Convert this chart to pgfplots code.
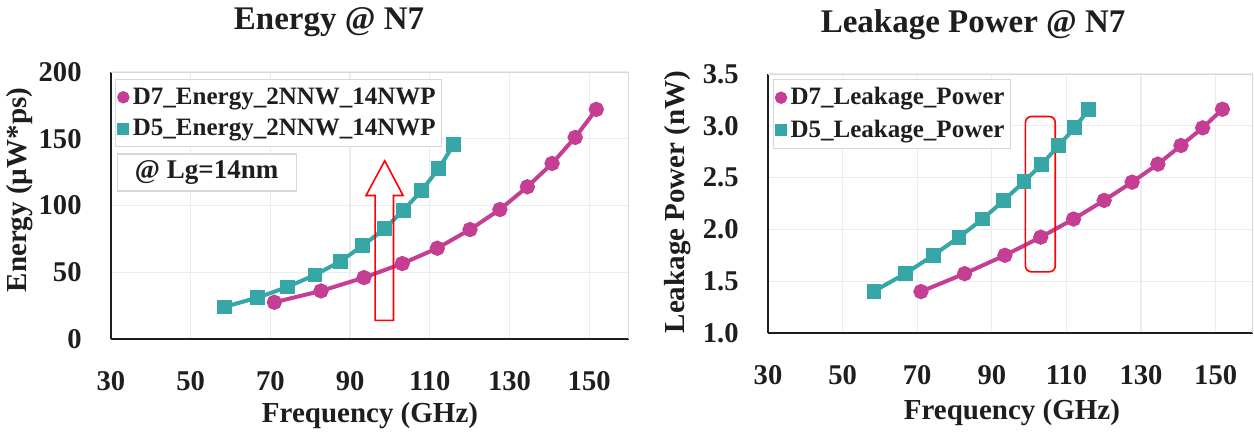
\documentclass[border=0pt]{standalone}
\usepackage{fontspec}
\setmainfont{Liberation Serif}
\usepackage{pgfplots}
\pgfplotsset{compat=1.18}
\definecolor{mag}{RGB}{196,62,148}
\definecolor{tealc}{RGB}{55,166,166}
\definecolor{frameg}{RGB}{215,215,215}
\definecolor{gridg}{RGB}{236,236,236}
\definecolor{txt}{RGB}{30,30,30}

\pgfplotstableread{
f E P
58.4 24.0 1.403
66.8 31.0 1.573
74.3 39.0 1.750
81.2 48.0 1.925
87.5 58.0 2.100
93.2 70.0 2.280
98.6 82.5 2.460
103.4 96.5 2.630
107.9 111.0 2.810
112.2 127.5 2.980
116.0 145.5 3.160
}\dfive
\pgfplotstableread{
f E P
71.0 27.5 1.400
82.7 36.0 1.573
93.5 46.0 1.750
103.1 56.5 1.925
111.9 68.0 2.100
120.1 82.0 2.280
127.6 97.0 2.456
134.5 114.0 2.630
140.7 131.5 2.810
146.5 151.0 2.980
151.8 172.0 3.160
}\dseven

\pgfplotsset{
  myax/.style={
    scale only axis,
    anchor=south west,
    xmin=30, xmax=160, xtick={30,50,...,150},
    axis x line*=bottom, axis y line*=left,
    axis line style={draw=txt, line width=0.8pt},
    major tick length=0pt,
    grid=major, major grid style={draw=gridg, line width=0.6pt},
    /pgf/number format/assume math mode=true,
    tick label style={font=\bfseries\fontsize{14.3}{14.3}\selectfont, text=txt},
    xticklabel style={inner sep=0pt, yshift=-16pt},
    yticklabel style={inner sep=0pt, xshift=-14.5pt},
    label style={font=\bfseries\fontsize{14.5}{14.5}\selectfont, text=txt},
    every axis title shift=0pt,
    title style={font=\bfseries\fontsize{16.5}{16.5}\selectfont, text=txt, anchor=center, yshift=0pt},
    legend style={draw=frameg, line width=0.6pt, fill=white, anchor=north west,
      font=\bfseries\fontsize{12.5}{12.5}\selectfont, text=txt,
      inner xsep=1pt, inner ysep=2pt, row sep=2pt},
    legend cell align=left,
    legend image code/.code={\draw[mark repeat=2,mark phase=2,##1] plot coordinates {(0pt,0pt)(2.5pt,0pt)(5pt,0pt)};},
  },
  magsty/.style={color=mag, line width=2pt, mark=*, mark size=2.8pt, mark options={solid, fill=mag}},
  tealsty/.style={color=tealc, line width=2pt, mark=square*, mark size=2.7pt, mark options={solid, fill=tealc}},
}

\begin{document}
\begin{tikzpicture}
\useasboundingbox (0,0) rectangle (627pt,217.5pt);

% ---------- (a) Energy ----------
\begin{axis}[myax,
  at={(55.5pt,48pt)}, width=259pt, height=133.5pt,
  ymin=0, ymax=200, ytick={0,50,...,200},
  title={Energy @ N7},
  title style={at={(axis description cs:0.421,1.187)}},
  xlabel={Frequency (GHz)},
  xlabel style={at={(axis description cs:0.5,-0.285)}, anchor=center},
  ylabel={Energy (µW*ps)},
  ylabel style={at={(axis description cs:-0.176,0.558)}, anchor=center},
  legend style={at={(axis description cs:0.008,0.974)}},
]
\draw[frameg, line width=0.6pt] (rel axis cs:0,1) -- (rel axis cs:1,1) -- (rel axis cs:1,0);
\addlegendimage{only marks, mark=*, mark size=2.8pt, color=mag, mark options={fill=mag}}
\addlegendentry{D7\_Energy\_2NNW\_14NWP}
\addlegendimage{only marks, mark=square*, mark size=2.7pt, color=tealc, mark options={fill=tealc}}
\addlegendentry{D5\_Energy\_2NNW\_14NWP}
\addplot[tealsty, forget plot] table[x=f, y=E] {\dfive};
\addplot[magsty, forget plot] table[x=f, y=E] {\dseven};
\draw[red, line width=0.8pt] (axis cs:96.3,14) -- (axis cs:100.9,14) -- (axis cs:100.9,107.5)
  -- (axis cs:103.3,107.5) -- (axis cs:98.7,133.5) -- (axis cs:94.0,107.5) -- (axis cs:96.3,107.5) -- cycle;
\node[draw=frameg, line width=0.6pt, fill=white, minimum width=89.5pt, minimum height=18.5pt,
  inner sep=0pt, font=\bfseries\fontsize{13.5}{13.5}\selectfont, text=txt] at (axis cs:54,124.7) {@ Lg=14nm};
\node[font=\bfseries\fontsize{15}{15}\selectfont, text=txt] at (axis description cs:-0.095,-0.247) {(a)};
\end{axis}

% ---------- (b) Leakage ----------
\begin{axis}[myax,
  at={(384pt,51pt)}, width=242.5pt, height=129.5pt,
  ymin=1, ymax=3.5, ytick={1,1.5,...,3.5},
  yticklabel style={/pgf/number format/.cd, fixed, fixed zerofill, precision=1},
  title={Leakage Power @ N7},
  title style={at={(axis description cs:0.423,1.189)}},
  xlabel={Frequency (GHz)},
  xlabel style={at={(axis description cs:0.503,-0.309)}, anchor=center},
  ylabel={Leakage Power (nW)},
  ylabel style={at={(axis description cs:-0.186,0.506)}, anchor=center},
  legend style={at={(axis description cs:0.01,0.981)}},
]
\draw[frameg, line width=0.6pt] (rel axis cs:0,1) -- (rel axis cs:1,1) -- (rel axis cs:1,0);
\addlegendimage{only marks, mark=*, mark size=2.8pt, color=mag, mark options={fill=mag}}
\addlegendentry{D7\_Leakage\_Power}
\addlegendimage{only marks, mark=square*, mark size=2.7pt, color=tealc, mark options={fill=tealc}}
\addlegendentry{D5\_Leakage\_Power}
\addplot[tealsty, forget plot] table[x=f, y=P] {\dfive};
\addplot[magsty, forget plot] table[x=f, y=P] {\dseven};
\draw[red, line width=0.8pt, rounded corners=3pt] (axis cs:99,1.59) rectangle (axis cs:107,3.09);
\node[font=\bfseries\fontsize{15}{15}\selectfont, text=txt] at (axis description cs:-0.052,-0.278) {(b)};
\end{axis}
\end{tikzpicture}
\end{document}
